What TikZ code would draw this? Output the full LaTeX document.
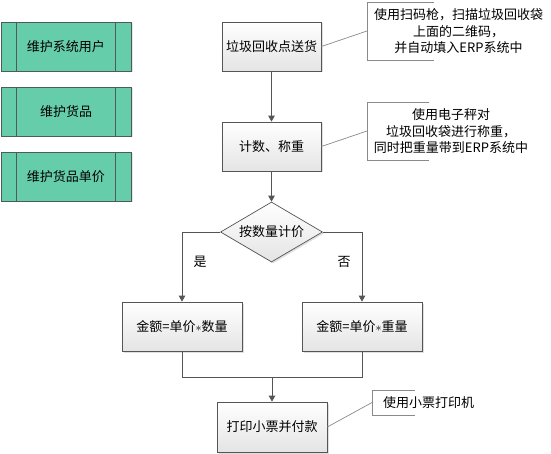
\documentclass[tikz,border=0pt]{standalone}
\usepackage{fontspec}
\setmainfont{Noto Sans CJK SC}
\usetikzlibrary{shapes.geometric,arrows.meta,shadows}
\definecolor{edgegray}{HTML}{555555}
\definecolor{notegray}{HTML}{8A8A8A}
\definecolor{mint}{HTML}{66CDAA}
\definecolor{mintedge}{HTML}{4D5C57}
\definecolor{boxbot}{HTML}{E4E4E4}
\begin{document}
\begin{tikzpicture}[x=1pt,y=-1pt,
  every node/.style={font=\fontsize{13}{16.5}\selectfont, inner sep=0pt},
  procbox/.style={rectangle, draw=edgegray, line width=0.7pt, top color=white, bottom color=boxbot,
    drop shadow={shadow xshift=1.5pt, shadow yshift=-1.5pt, opacity=0.25}},
  decbox/.style={diamond, draw=edgegray, line width=0.7pt, top color=white, bottom color=boxbot,
    minimum width=102pt, minimum height=60pt, aspect=1.7,
    drop shadow={shadow xshift=1.5pt, shadow yshift=-1.5pt, opacity=0.25}},
  greenbox/.style={rectangle, draw=mintedge, line width=0.8pt, fill=mint, minimum width=130pt, minimum height=49pt,
    drop shadow={shadow xshift=1.5pt, shadow yshift=-1.5pt, opacity=0.2}},
  flow/.style={draw=edgegray, line width=0.8pt},
  flowarrow/.style={flow, -{Triangle[length=6pt,width=6.5pt]}},
  notebr/.style={draw=notegray, line width=0.7pt},
  notelink/.style={draw=notegray, line width=0.7pt},
  notetext/.style={align=center}
]
\useasboundingbox[fill=white] (0,0) rectangle (551,454);

% left green boxes
\node[greenbox] (g1) at (66,46.5) {维护系统用户};
\node[greenbox] (g2) at (66,111.5) {维护货品};
\node[greenbox] (g3) at (66,176.5) {维护货品单价};
\foreach \g in {g1,g2,g3}{
  \draw[mintedge, line width=0.8pt] ([xshift=16pt]\g.north west) -- ([xshift=16pt]\g.south west);
  \draw[mintedge, line width=0.8pt] ([xshift=-16pt]\g.north east) -- ([xshift=-16pt]\g.south east);
}

% main flow
\node[procbox, minimum width=99pt, minimum height=49pt] (s1) at (271.5,46.5) {垃圾回收点送货};
\node[procbox, minimum width=99pt, minimum height=49pt] (s2) at (271.5,146.5) {计数、称重};
\node[decbox] (d) at (271.5,232) {按数量计价};
\node[procbox, minimum width=120pt, minimum height=49pt] (l) at (182,326.5) {金额=单价$\ast$数量};
\node[procbox, minimum width=120pt, minimum height=49pt] (r) at (362,326.5) {金额=单价$\ast$重量};
\node[procbox, minimum width=110pt, minimum height=50pt] (f) at (272,427) {打印小票并付款};

\draw[flowarrow] (s1) -- (s2);
\draw[flowarrow] (s2.south) -- (d.north);
\draw[flowarrow] (d.west) -| (l.north);
\draw[flowarrow] (d.east) -| (r.north);
\coordinate (m) at (272,377);
\draw[flow] (l.south) |- (r.south |- m) -- (r.south);
\draw[flowarrow] (m) -- (f.north);

\node (yes) at (200,262) {是};
\node (no) at (344,262) {否};

% annotations
\coordinate (n1a) at (434,2);
\coordinate (n1b) at (367,2);
\coordinate (n1c) at (367,60);
\coordinate (n1d) at (434,60);
\coordinate (n1m) at (367,31);
\draw[notebr] (n1a) -- (n1b) -- (n1c) -- (n1d);
\node[notetext] (t1) at (458.5,31.5) {使用扫码枪，扫描垃圾回收袋\\上面的二维码，\\并自动填入ERP系统中};
\draw[notelink] (s1.east) -- (n1m);

\coordinate (n2a) at (429,102);
\coordinate (n2b) at (367,102);
\coordinate (n2c) at (367,160);
\coordinate (n2d) at (429,160);
\coordinate (n2m) at (367,131);
\draw[notebr] (n2a) -- (n2b) -- (n2c) -- (n2d);
\node[notetext] (t2) at (451,131.5) {使用电子秤对\\垃圾回收袋进行称重，\\同时把重量带到ERP系统中};
\draw[notelink] (s2.east) -- (n2m);

\coordinate (n3a) at (415,390);
\coordinate (n3b) at (372,390);
\coordinate (n3c) at (372,415);
\coordinate (n3d) at (415,415);
\coordinate (n3m) at (372,402.5);
\draw[notebr] (n3a) -- (n3b) -- (n3c) -- (n3d);
\node[notetext] (t3) at (428.5,403) {使用小票打印机};
\draw[notelink] (f.east) -- (n3m);
\end{tikzpicture}
\end{document}
